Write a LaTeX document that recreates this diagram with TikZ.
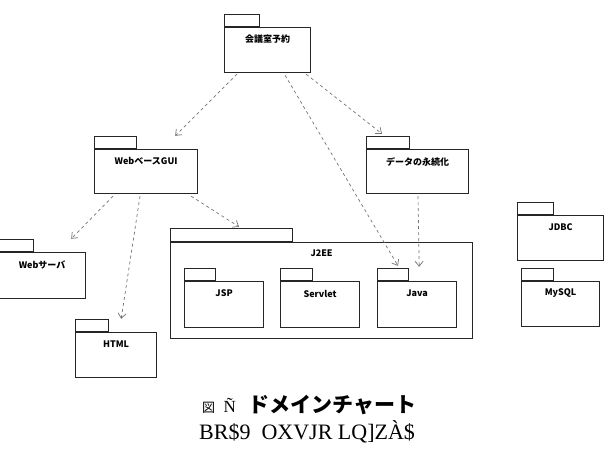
\documentclass[tikz,border=0pt]{standalone}
\usepackage{fontspec}
\newfontfamily\jpfont{Noto Sans CJK JP}
\newfontfamily\capserif{Liberation Serif}
\usetikzlibrary{arrows.meta,calc}

% one package: body node, tab node on its top left, label below the top edge
\newcommand{\pkg}[7]{%
  \node[pkgbody, minimum width=#4pt, minimum height=#5pt] (#1) at (#2,#3) {};
  \node[pkgtab, minimum width=#6pt] (#1-tab) at (#1.north west) {};
  \node[pkglabel] (#1-label) at ($(#1.north)+(0,12.5)$) {#7};
}

\begin{document}
\begin{tikzpicture}[x=1pt, y=-1pt,
    pkgbody/.style={draw=black!85, line width=1.2pt, anchor=north west, inner sep=0pt, fill=white},
    pkgtab/.style={draw=black!85, line width=1.2pt, anchor=south west, inner sep=0pt, minimum height=12pt},
    pkglabel/.style={font=\jpfont\bfseries\fontsize{9}{10}\selectfont, inner sep=0pt},
    dep/.style={draw=black!55, line width=0.7pt, dash pattern=on 3pt off 3pt, -{Straight Barb[length=5pt, width=8pt]}}]
        \useasboundingbox (0,0) rectangle (610,450);

        % we draw the packages
        \pkg{top}{224}{27}{86}{45}{35}{会議室予約}
        \pkg{webgui}{94}{149}{103}{44}{42}{WebベースGUI}
        \pkg{data}{366}{149}{102}{44}{43}{データの永続化}
        \pkg{websrv}{-2}{252}{87}{46}{35}{Webサーバ}
        \pkg{html}{75}{332}{81}{45}{33}{HTML}

        % J2EE holds three packages
        \node[pkgbody, minimum width=302pt, minimum height=96pt] (j2ee) at (170,242) {};
        \node[pkgtab, minimum width=122pt, minimum height=13pt] (j2ee-tab) at (j2ee.north west) {};
        \node[pkglabel] (j2ee-label) at ($(j2ee.north)+(0,11)$) {J2EE};
        \pkg{jsp}{184}{281}{79}{46}{31}{JSP}
        \pkg{servlet}{280}{281}{79}{46}{32}{Servlet}
        \pkg{java}{377}{281}{79}{46}{31}{Java}

        \pkg{jdbc}{517}{215}{86}{45}{36}{JDBC}
        \pkg{mysql}{521}{281}{78}{45}{32}{MySQL}

        % we draw the dependencies
        \draw[dep] ($(top.south west)+(13,1)$) -- ($(webgui-tab.north east)+(38,0)$);
        \draw[dep] ($(top.south west)+(61,2)$) -- ($(java-tab.north west)+(21,-2)$);
        \draw[dep] ($(top.south east)+(-5,1)$) -- ($(data-tab.north west)+(16,-2)$);
        \draw[dep] ($(webgui.south west)+(19,2)$) -- ($(websrv-tab.north east)+(37,0)$);
        \draw[dep] ($(webgui.south west)+(46,2)$) -- ($(html-tab.north east)+(12,0)$);
        \draw[dep] ($(webgui.south east)+(-7,2)$) -- ($(j2ee-tab.north west)+(69,-1)$);
        \draw[dep] ($(data.south west)+(52,2)$) -- ($(java-tab.north east)+(10,-1)$);

        % caption below
        \node[anchor=west, inner sep=0pt] (cap1) at (202,405)
            {{\jpfont\fontsize{13}{14}\selectfont 図}{\capserif\fontsize{17}{18}\selectfont\ \ Ñ\ \ \ }{\jpfont\bfseries\fontsize{21}{21}\selectfont ドメインチャート}};
        \node[anchor=west, inner sep=0pt] (cap2) at (199,432)
            {\capserif\fontsize{22}{22}\selectfont BR\$9\ \ OXVJR LQ]ZÀ\$};
\end{tikzpicture}
\end{document}
